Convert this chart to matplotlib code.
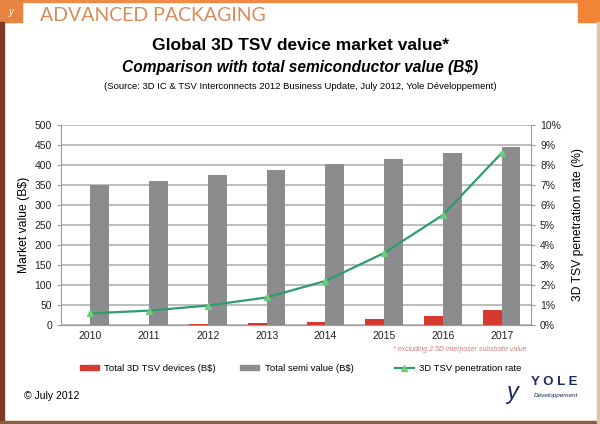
import numpy as np
import matplotlib.pyplot as plt
from matplotlib.patches import Rectangle
from matplotlib.lines import Line2D

plt.rcParams['font.family'] = ['Liberation Sans', 'DejaVu Sans']

# Data
years = ['2010', '2011', '2012', '2013', '2014', '2015', '2016', '2017']
tsv_devices = [0.8, 1.2, 2.8, 5.5, 8.5, 14.5, 23.5, 37.5]          # B$
semi_value = [350, 361, 374, 387, 402, 414, 430, 445]          # B$
penetration = [0.58, 0.72, 0.97, 1.38, 2.2, 3.6, 5.5, 8.6]     # %

red = '#D63A2F'
gray = '#8C8C8F'
green = '#2E9C6C'
marker_green = '#6DCB80'

fig = plt.figure(figsize=(6, 4.24), dpi=100)
fig.patch.set_facecolor('white')

# frame / header decorations
def box(x0, y0, w, h, c):
    fig.patches.append(Rectangle((x0, y0), w, h, transform=fig.transFigure, color=c, zorder=0))

box(0, 0.995, 1, 0.005, '#EE8A45')
box(0, 0.948, 0.037, 0.052, '#E98440')
box(0.963, 0.948, 0.037, 0.052, '#F28535')
box(0, 0, 0.006, 0.948, '#7E3A22')
box(0, 0, 1, 0.007, '#8A5E42')
box(0.995, 0, 0.005, 0.948, '#D9C7A6')
fig.text(0.018, 0.972, 'y', color='white', fontsize=7, ha='center', va='center', style='italic')

fig.text(0.066, 0.963, 'ADVANCED PACKAGING', color='#DA8B58', fontsize=14,
         family=['Lato', 'DejaVu Sans'], va='center', ha='left')

fig.text(0.5, 0.893, 'Global 3D TSV device market value*', fontsize=12.5,
         fontweight='bold', ha='center', va='center')
fig.text(0.5, 0.841, 'Comparison with total semiconductor value (B$)', fontsize=11.2,
         fontweight='bold', style='italic', ha='center', va='center')
fig.text(0.5, 0.797, '(Source: 3D IC & TSV Interconnects 2012 Business Update, July 2012, Yole Développement)',
         fontsize=6.8, ha='center', va='center')

ax = fig.add_axes([0.1017, 0.2335, 0.7833, 0.4717])
x = np.arange(len(years))
w = 0.32
ax.bar(x - w / 2, tsv_devices, width=w, color=red, zorder=3)
ax.bar(x + w / 2, semi_value, width=w, color=gray, zorder=3)
ax.set_xlim(-0.5, len(years) - 0.5)
ax.set_ylim(0, 500)
ax.set_yticks(np.arange(0, 501, 50))
ax.set_xticks(x)
ax.set_xticklabels(years)
ax.grid(axis='y', color='#B8B8B8', linewidth=1.3, zorder=0)
ax.set_axisbelow(True)
for s in ['top', 'right']:
    ax.spines[s].set_visible(False)
for s in ['left', 'bottom']:
    ax.spines[s].set_color('#9A9A9A')
ax.tick_params(axis='both', labelsize=7.5, colors='#9A9A9A', labelcolor='#222222', length=3)
ax.tick_params(axis='x', length=0, pad=4)
ax.set_ylabel('Market value (B$)', fontsize=8.7, labelpad=3)

ax2 = ax.twinx()
ax2.plot(x, penetration, color=green, linewidth=1.6, marker='^', markersize=5,
         markerfacecolor=marker_green, markeredgecolor=marker_green, zorder=5)
ax2.set_ylim(0, 10)
ax2.set_yticks(np.arange(0, 11, 1))
ax2.set_yticklabels([f'{i}%' for i in range(11)])
for s in ['top', 'left', 'bottom']:
    ax2.spines[s].set_visible(False)
ax2.spines['right'].set_color('#9A9A9A')
ax2.tick_params(axis='y', labelsize=7.5, colors='#9A9A9A', labelcolor='#222222', length=3)
ax2.set_ylabel('3D TSV penetration rate (%)', fontsize=8.7, labelpad=8)

fig.text(0.878, 0.175, '* excluding 2.5D interposer substrate value', fontsize=5,
         style='italic', color='#D97A7A', ha='right', va='center')

# legend entries placed like the original (evenly spread slots)
entries = [
    (Rectangle((0, 0), 1, 1, color=red), 'Total 3D TSV devices (B$)', 0.133),
    (Rectangle((0, 0), 1, 1, color=gray), 'Total semi value (B$)', 0.400),
    (Line2D([], [], color=green, linewidth=1.6, marker='^', markersize=4,
            markerfacecolor=marker_green, markeredgecolor=marker_green),
     '3D TSV penetration rate', 0.658),
]
for h, lab, xpos in entries:
    leg = fig.legend([h], [lab], loc='center left', bbox_to_anchor=(xpos, 0.132),
                     frameon=False, fontsize=6.8, handlelength=2.0, handleheight=0.45,
                     handletextpad=0.6, borderpad=0, borderaxespad=0)

fig.text(0.04, 0.066, '© July 2012', fontsize=7.5, ha='left', va='center')

# Yole logo text
fig.text(0.963, 0.068, 'Développement', fontsize=4.6, style='italic', color='#1B2A5C',
         ha='right', va='center')
fig.text(0.963, 0.10, 'Y O L E', fontsize=9.5, fontweight='bold', color='#1B2A5C',
         ha='right', va='center')
fig.text(0.853, 0.075, 'y', fontsize=17, color='#1B2A5C', ha='center', va='center',
         style='italic')

fig.savefig('out.png', dpi=100)
